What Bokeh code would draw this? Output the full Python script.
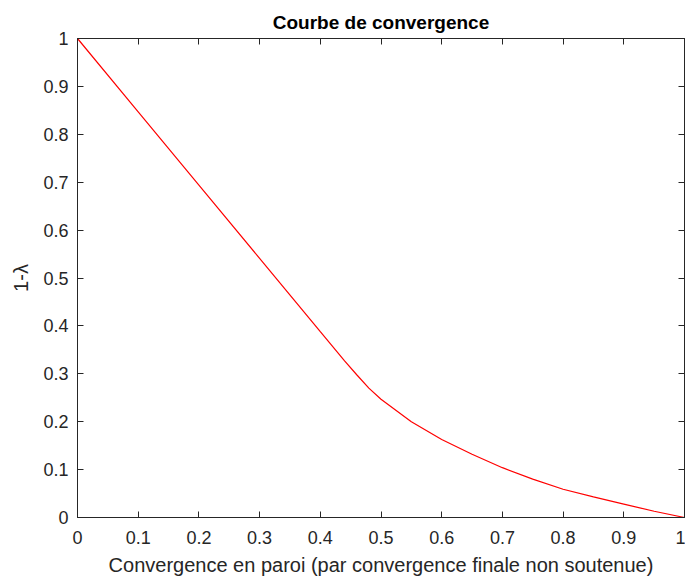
from bokeh.plotting import figure
from bokeh.models import LinearAxis, FixedTicker, Range1d, CustomJSTickFormatter
from bokeh.embed import file_html
from bokeh.resources import INLINE

conv = [0.0, 0.1, 0.2, 0.3, 0.4, 0.44, 0.46, 0.48, 0.5, 0.55, 0.6, 0.65, 0.7, 0.75, 0.8, 0.85, 0.9, 0.95, 1.0]
one_minus_lambda = [1.0, 0.847, 0.694, 0.541, 0.388, 0.327, 0.298, 0.270, 0.247, 0.200, 0.163, 0.132, 0.104, 0.080, 0.059, 0.043, 0.028, 0.013, 0.0]

x_ticks = [0, 0.1, 0.2, 0.3, 0.4, 0.5, 0.6, 0.7, 0.8, 0.9, 1]
x_labels = ["0", "0.1", "0.2", "0.3", "0.4", "0.5", "0.6", "0.7", "0.8", "0.9", "1"]
y_ticks = x_ticks
y_labels = x_labels

AX = "#262626"
FONT = "Liberation Sans"

p = figure(width=685, height=578, output_backend="svg", toolbar_location=None,
           x_range=Range1d(0, 1), y_range=Range1d(0, 1),
           min_border_left=77, min_border_right=1, min_border_top=38, min_border_bottom=60,
           title="Courbe de convergence")
p.title.align = "center"
p.title.text_font = FONT
p.title.text_font_size = "19px"
p.title.text_font_style = "bold"
p.title.text_color = "#000000"
p.title.standoff = 11
p.grid.visible = False
p.outline_line_color = AX
p.outline_line_width = 1

p.line(conv, one_minus_lambda, line_color="#FF0000", line_width=1.2)

for ax, ticks, labels in ((p.xaxis[0], x_ticks, x_labels), (p.yaxis[0], y_ticks, y_labels)):
    ax.ticker = FixedTicker(ticks=ticks)
    ax.major_label_overrides = {t: l for t, l in zip(ticks, labels)}
    ax.major_tick_in = 6
    ax.major_tick_out = 0
    ax.minor_tick_in = 0
    ax.minor_tick_out = 0
    ax.axis_line_color = AX
    ax.major_tick_line_color = AX
    ax.major_label_text_color = AX
    ax.major_label_text_font = FONT
    ax.major_label_text_font_size = "18px"
    ax.axis_label_text_font = FONT
    ax.axis_label_text_font_size = "20px"
    ax.axis_label_text_font_style = "normal"
    ax.axis_label_text_color = AX

p.xaxis[0].axis_label = "Convergence en paroi (par convergence finale non soutenue)"
p.yaxis[0].axis_label = "1-λ"
p.xaxis[0].major_label_standoff = 13
p.yaxis[0].major_label_standoff = 9
p.xaxis[0].axis_label_standoff = 7
p.yaxis[0].axis_label_standoff = 8

# mirrored ticks on top and right
blank = CustomJSTickFormatter(code="return ''")
top = LinearAxis(ticker=FixedTicker(ticks=x_ticks), formatter=blank,
                 major_tick_in=6, major_tick_out=0, minor_tick_in=0, minor_tick_out=0,
                 axis_line_color=AX, major_tick_line_color=AX, major_label_standoff=0)
right = LinearAxis(ticker=FixedTicker(ticks=y_ticks), formatter=blank,
                   major_tick_in=6, major_tick_out=0, minor_tick_in=0, minor_tick_out=0,
                   axis_line_color=AX, major_tick_line_color=AX, major_label_standoff=0)
p.add_layout(top, "above")
p.add_layout(right, "right")

open("out.html", "w").write(file_html(p, INLINE))
